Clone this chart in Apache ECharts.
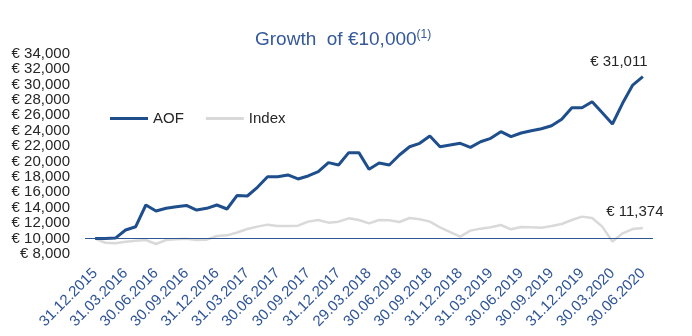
<!DOCTYPE html>
<html>
<head>
<meta charset="utf-8">
<script src="https://cdn.jsdelivr.net/npm/echarts@6/dist/echarts.min.js"></script>
<style>html,body{margin:0;padding:0;background:#fff}#c{width:692px;height:336px}</style>
</head>
<body>
<div id="c"></div>
<script>
const quarterLabels = ['31.12.2015','31.03.2016','30.06.2016','30.09.2016','31.12.2016','31.03.2017','30.06.2017','30.09.2017','31.12.2017','29.03.2018','30.06.2018','30.09.2018','31.12.2018','31.03.2019','30.06.2019','30.09.2019','31.12.2019','30.03.2020','30.06.2020'];
const monthsPerLabel = 3;
const aof = [10000,10000,10050,11100,11530,14350,13570,13920,14130,14300,13700,13920,14350,13830,15600,15520,16650,18030,18030,18250,17730,18120,18680,19850,19550,21150,21150,18990,19800,19550,20840,21920,22360,23310,21920,22140,22360,21840,22570,23010,23870,23220,23700,24000,24260,24650,25480,26990,26990,27770,26340,24870,27560,29930,31011];
const indexVals = [10000,9450,9370,9590,9720,9800,9290,9800,9890,9980,9800,9850,10320,10410,10780,11230,11540,11800,11620,11620,11670,12190,12400,12060,12190,12620,12400,11970,12400,12360,12140,12660,12490,12190,11450,10840,10240,11020,11280,11450,11750,11190,11500,11450,11410,11620,11880,12400,12840,12660,11540,9590,10670,11230,11374];
const yTicks = {min: 8000, max: 34000, step: 2000};
const baseline = 10000;

const fmt = v => '€ ' + v.toLocaleString('en-US');
const last = aof.length - 1;
const pairs = arr => arr.map((v, i) => [i, v]);
const endMark = (arr, offset) => ({
  silent: true, symbol: 'circle', symbolSize: 0,
  label: {show: true, position: 'top', offset: offset, color: '#262626', fontSize: 15, fontFamily: 'Liberation Sans', formatter: p => fmt(p.data.coord[1])},
  data: [{coord: [last, arr[last]]}]
});
const tickValues = quarterLabels.map((_, k) => k * monthsPerLabel);

const chart = echarts.init(document.getElementById('c'), null, {renderer: 'canvas'});
chart.setOption({
  animation: false,
  textStyle: {fontFamily: 'Liberation Sans'},
  title: {
    text: '{m|Growth  of €10,000}{s|(1)}',
    left: 250, top: 24,
    textStyle: {fontWeight: 'normal', rich: {
      m: {fontSize: 19, color: '#34589A', fontFamily: 'Liberation Sans', fontWeight: 'normal'},
      s: {fontSize: 12, color: '#34589A', fontFamily: 'Liberation Sans', fontWeight: 'normal', padding: [0, 0, 9, 0]}
    }}
  },
  legend: {
    left: 105, top: 106, itemWidth: 38, itemHeight: 3, itemGap: 22,
    icon: 'rect',
    textStyle: {fontSize: 15, color: '#262626'},
    data: ['AOF', 'Index']
  },
  grid: {left: 85, right: 39, top: 53.7, bottom: 82.1, containLabel: false},
  xAxis: {
    type: 'value', min: -1, max: aof.length,
    splitLine: {show: false}, axisLine: {show: false}, axisTick: {show: false},
    axisLabel: {
      customValues: tickValues,
      rotate: 45, margin: 17, fontSize: 15, color: '#2F5597',
      formatter: v => quarterLabels[Math.round(v / monthsPerLabel)] || ''
    }
  },
  yAxis: {
    type: 'value', min: yTicks.min, max: yTicks.max, interval: yTicks.step,
    splitLine: {show: false}, axisLine: {show: false}, axisTick: {show: false},
    axisLabel: {fontSize: 15, color: '#262626', margin: 15, formatter: v => fmt(v)}
  },
  series: [
    {
      name: 'Index', type: 'line', showSymbol: false, z: 2,
      lineStyle: {color: '#D9D9D9', width: 2.5}, itemStyle: {color: '#D9D9D9'},
      data: pairs(indexVals),
      markPoint: endMark(indexVals, [-8, -4]),
      markLine: {
        silent: true, symbol: 'none', label: {show: false},
        lineStyle: {color: '#2F5597', width: 1.2, type: 'solid'},
        data: [{yAxis: baseline}]
      }
    },
    {
      name: 'AOF', type: 'line', showSymbol: false, z: 3,
      lineStyle: {color: '#1F4E8C', width: 3}, itemStyle: {color: '#1F4E8C'},
      data: pairs(aof),
      markPoint: endMark(aof, [-24, -2])
    }
  ]
});
</script>
</body>
</html>
